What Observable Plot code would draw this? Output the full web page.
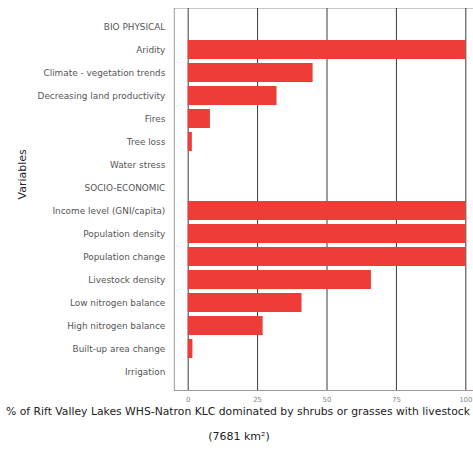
<!DOCTYPE html>
<html>
<head>
<meta charset="utf-8">
<script src="https://cdn.jsdelivr.net/npm/d3@7"></script>
<script src="https://cdn.jsdelivr.net/npm/@observablehq/plot@0.6"></script>
<style>
  html, body { margin: 0; padding: 0; background: #fff; overflow: hidden; }
  #chart svg { overflow: visible; display: block; }
</style>
</head>
<body>
<div id="chart"></div>
<script>
const categories = [
  "BIO PHYSICAL",
  "Aridity",
  "Climate - vegetation trends",
  "Decreasing land productivity",
  "Fires",
  "Tree loss",
  "Water stress",
  "SOCIO-ECONOMIC",
  "Income level (GNI/capita)",
  "Population density",
  "Population change",
  "Livestock density",
  "Low nitrogen balance",
  "High nitrogen balance",
  "Built-up area change",
  "Irrigation"
];
const values = [null, 100, 45, 32, 8, 1.5, 0, null, 100, 100, 100, 66, 41, 27, 1.7, 0];
const xTicks = [0, 25, 50, 75, 100];
const xTitle = "% of Rift Valley Lakes WHS-Natron KLC dominated by shrubs or grasses with livestock";
const xTitle2 = "(7681 km²)";
const yTitle = "Variables";

const data = categories.map((c, i) => ({category: c, value: values[i]})).filter(d => d.value != null);

const font = "'DejaVu Sans', sans-serif";

const chart = Plot.plot({
  width: 473,
  height: 452,
  marginLeft: 174,
  marginRight: 0,
  marginTop: 8,
  marginBottom: 62,
  style: {fontFamily: font, background: "#fff"},
  x: {domain: [-5, 105], range: [173.8, 479.2], axis: null},
  y: {type: "band", domain: categories, paddingInner: 0.18, paddingOuter: 0.19, axis: null},
  marks: [
    Plot.frame({anchor: "top", stroke: "#c8c8c8"}),
    Plot.ruleX([-5], {stroke: "#999", strokeWidth: 1}),
    Plot.ruleX(xTicks, {stroke: "#3a3a3a", strokeWidth: 1}),
    Plot.barX(data, {x: "value", y: "category", fill: "#ee3d38"}),
    Plot.frame({anchor: "bottom", stroke: "#999"}),
    Plot.text(xTicks, {x: d => d, frameAnchor: "bottom", dy: 11, fontSize: 7, fill: "#888", text: d => String(d)}),
    Plot.text(categories, {x: () => -5, y: d => d, dx: -9, textAnchor: "end", fontSize: 8.9, fill: "#555", text: d => d}),
    Plot.text([xTitle], {frameAnchor: "bottom", dx: -86, dy: 24, fontSize: 10.8, fill: "#222", text: d => d}),
    Plot.text([xTitle2], {frameAnchor: "bottom", dx: -85, dy: 49, fontSize: 11, fill: "#222", text: d => d}),
    Plot.text([yTitle], {frameAnchor: "left", dx: -152, rotate: -90, fontSize: 11, fill: "#222", text: d => d})
  ]
});
document.getElementById("chart").appendChild(chart);
</script>
</body>
</html>
